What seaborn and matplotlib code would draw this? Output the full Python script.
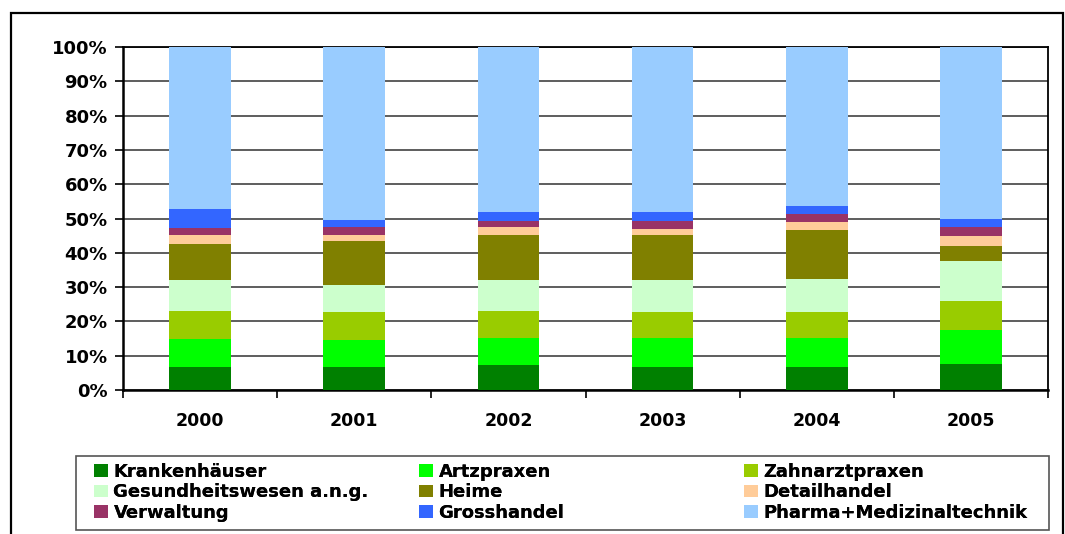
import matplotlib
matplotlib.use("Agg")
import matplotlib.pyplot as plt
import matplotlib.patches as mpatches
import numpy as np
import pandas as pd
import seaborn as sns

years = ["2000", "2001", "2002", "2003", "2004", "2005"]
series_names = ["Krankenhäuser", "Artzpraxen", "Zahnarztpraxen", "Gesundheitswesen a.n.g.",
                "Heime", "Detailhandel", "Verwaltung", "Grosshandel", "Pharma+Medizinaltechnik"]
krankenhaeuser = [6.6, 6.6, 7.2, 6.6, 6.6, 7.7]
artzpraxen = [8.2, 7.9, 7.9, 8.5, 8.5, 9.8]
zahnarztpraxen = [8.2, 8.2, 7.9, 7.6, 7.6, 8.5]
gesundheitswesen = [9.2, 8.0, 9.2, 9.5, 9.8, 11.7]
heime = [10.5, 12.6, 12.9, 12.9, 14.1, 4.2]
detailhandel = [2.4, 1.8, 2.4, 1.8, 2.3, 2.9]
verwaltung = [2.1, 2.4, 1.7, 2.3, 2.4, 2.7]
grosshandel = [5.5, 2.0, 2.7, 2.7, 2.3, 2.3]
pharma = [47.3, 50.5, 48.1, 48.1, 46.4, 50.2]
colors = ["#008000", "#00FF00", "#99CC00", "#CCFFCC", "#808000",
          "#FFCC99", "#993366", "#3366FF", "#99CCFF"]
ytick_labels = ["0%", "10%", "20%", "30%", "40%", "50%", "60%", "70%", "80%", "90%", "100%"]

values = np.array([krankenhaeuser, artzpraxen, zahnarztpraxen, gesundheitswesen, heime,
                   detailhandel, verwaltung, grosshandel, pharma], dtype=float)
values = values / values.sum(axis=0) * 100
cum = np.cumsum(values, axis=0)

sns.set_theme(style="white")
plt.rcParams["font.family"] = ["DejaVu Sans"]
plt.rcParams["font.weight"] = "bold"
plt.rcParams["text.color"] = "black"
plt.rcParams["xtick.color"] = "black"
plt.rcParams["ytick.color"] = "black"
plt.rcParams["xtick.labelcolor"] = "black"
plt.rcParams["ytick.labelcolor"] = "black"

fig = plt.figure(figsize=(10.65, 5.34), dpi=100)
ax = fig.add_axes([123 / 1065, 1 - 390 / 534, (1048 - 123) / 1065, (390 - 47) / 534])

for i in range(len(series_names) - 1, -1, -1):
    df = pd.DataFrame({"Jahr": years, "Wert": cum[i]})
    sns.barplot(data=df, x="Jahr", y="Wert", order=years, color=colors[i], saturation=1,
                width=0.4, linewidth=0, ax=ax, zorder=3, errorbar=None)

ax.set_ylim(0, 100)
ax.set_xlim(-0.5, 5.5)
ax.set_yticks(np.arange(0, 101, 10))
ax.set_yticklabels(ytick_labels, fontsize=13, fontweight="bold", color="black")
ax.yaxis.grid(True, color="#505050", linewidth=1.3, zorder=0)
ax.set_axisbelow(True)
ax.set_xlabel("")
ax.set_ylabel("")

ax.set_xticks(np.arange(-0.5, 6.0, 1.0))
ax.set_xticklabels([""] * 7)
ax.set_xticks(np.arange(0, 6), minor=True)
ax.set_xticklabels(years, minor=True, fontsize=12.5, fontweight="bold", color="black")
ax.tick_params(axis="x", which="major", direction="out", length=6, width=1.2, color="black", bottom=True)
ax.tick_params(axis="x", which="minor", length=0, pad=16)
ax.tick_params(axis="y", direction="out", length=6, width=1.2, color="black", left=True, pad=5)

for side in ["left", "bottom"]:
    ax.spines[side].set_color("black")
    ax.spines[side].set_linewidth(1.8)
for side in ["top", "right"]:
    ax.spines[side].set_visible(True)
    ax.spines[side].set_color("black")
    ax.spines[side].set_linewidth(1.3)

# outer frame
fig.patches.append(mpatches.Rectangle((11 / 1065, -0.05), (1063 - 11) / 1065, 1.05 - 13 / 534,
                                      transform=fig.transFigure, fill=False, edgecolor="black",
                                      linewidth=1.6, zorder=0))
# legend frame
fig.patches.append(mpatches.Rectangle((76 / 1065, 1 - 530 / 534), (1049 - 76) / 1065, (530 - 456) / 534,
                                      transform=fig.transFigure, fill=False, edgecolor="#555555",
                                      linewidth=1.2, zorder=0))

handles = [mpatches.Patch(facecolor=c, edgecolor="none") for c in colors]
col_x = [90, 415, 740]
for col in range(3):
    idx = [col, col + 3, col + 6]
    leg = fig.legend([handles[k] for k in idx], [series_names[k] for k in idx],
                     loc="upper left", bbox_to_anchor=(col_x[col] / 1065, 1 - 459 / 534),
                     bbox_transform=fig.transFigure, frameon=False, ncol=1,
                     prop={"weight": "bold", "size": 13}, handlelength=0.8, handleheight=0.7,
                     handletextpad=0.3, labelspacing=0.15, borderpad=0.2, borderaxespad=0,
                     labelcolor="black")
    fig.add_artist(leg)

fig.savefig("out.png", dpi=100)
